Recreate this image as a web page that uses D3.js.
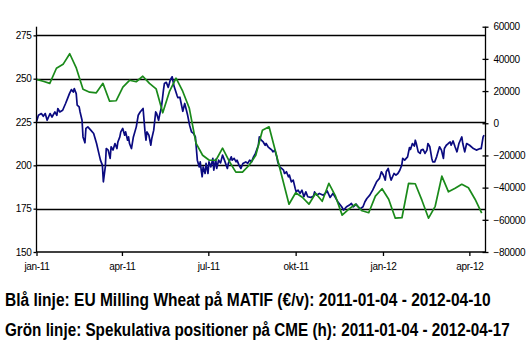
<!DOCTYPE html>
<html>
<head>
<meta charset="utf-8">
<script src="https://cdn.jsdelivr.net/npm/d3@7"></script>
<style>
  body { margin: 0; background: #fff; }
  svg { display: block; }
  .tick text { font-family: "Liberation Sans", Arial, sans-serif; font-size: 10px; fill: #000; letter-spacing: -0.3px; }
</style>
</head>
<body>
<svg id="chart"></svg>
<script>
// EU Milling Wheat (MATIF), EUR/t - days after 2011-01-04
const blueDays = [0,2,5,7,9,11,14,16,19,21,22,24,27,30,32,34,36,38,39,41,42,44,45,47,48,50,51,53,56,59,
  62,64,66,68,69,71,72,74,76,77,79,81,83,84,86,87,89,91,92,94,95,96,98,100,103,105,107,110,112,113,
  114,116,118,119,121,123,124,126,127,129,131,132,134,136,138,140,142,145,146,148,151,153,155,156,158,160,162,164,165,166,
  168,169,170,171,172,174,175,177,178,180,182,183,185,186,188,190,192,194,197,198,201,202,204,206,207,209,211,213,216,218,
  220,222,224,226,229,230,232,234,236,237,239,241,243,244,246,248,249,251,253,255,256,258,260,261,263,265,267,268,270,272,
  274,276,278,280,283,286,287,289,292,296,298,300,303,306,309,311,315,317,320,323,325,327,330,332,334,337,339,341,344,347,
  351,354,356,358,360,361,363,365,366,369,371,373,375,377,378,380,383,385,386,388,390,391,392,394,396,397,399,401,403,404,
  406,408,409,411,413,415,416,418,420,421,423,425,427,428,430,432,434,436,439,440,442,444,447,451,454,458,459,461,462];
const blueValues = [225.1,228.9,229.9,228.3,229.9,226.0,229.9,227.9,230.8,228.9,232.8,230.8,231.8,235.7,238.5,241.4,243.7,242.3,244.3,241.4,
  234.7,233.7,230.8,226.0,216.4,213.0,221.3,222.2,220.3,218.4,212.6,207.8,203.0,200.1,190.5,199.1,209.7,208.8,204.0,210.7,
  208.8,212.6,209.7,213.5,216.4,219.3,221.3,217.4,219.3,214.5,216.4,212.6,209.7,216.4,222.2,228.9,230.8,232.8,219.3,214.5,
  219.3,217.4,211.6,215.5,220.3,230.8,229.9,226.0,228.9,233.7,243.3,247.2,247.9,245.0,249.1,251.1,245.6,240.4,239.0,239.3,
  231.2,235.7,231.2,228.9,223.2,219.3,218.4,216.4,209.7,203.0,199.1,202.0,197.2,193.4,199.1,195.3,201.1,195.3,202.0,199.1,
  204.0,197.2,203.4,198.2,203.0,201.4,205.9,203.0,198.2,201.1,204.9,203.0,204.0,202.0,203.0,200.1,198.2,201.1,202.0,201.1,
  203.0,202.0,204.9,206.9,211.6,216.4,214.5,213.5,211.6,212.6,210.7,209.7,208.8,207.8,208.8,204.9,202.0,199.1,198.2,197.2,
  195.3,196.3,193.4,194.4,190.5,191.5,186.7,184.7,185.7,183.8,185.7,181.9,184.7,181.9,181.5,182.3,184.7,182.8,183.8,182.8,
  183.8,185.3,181.5,183.8,180.9,179.0,176.1,174.2,176.1,177.1,178.1,176.1,177.6,176.1,174.9,176.1,179.0,180.9,182.8,185.7,
  190.5,192.5,196.3,194.4,191.5,196.3,198.2,193.4,191.5,195.3,194.4,195.3,197.2,200.1,204.0,203.0,204.9,210.3,209.2,212.6,
  211.1,214.5,212.6,207.8,206.9,208.8,209.2,206.9,208.8,212.6,210.7,204.0,202.0,202.0,204.9,208.8,210.7,208.8,204.0,209.7,
  211.6,212.6,213.5,211.6,214.1,210.7,207.8,212.6,216.4,212.6,207.8,212.6,211.6,209.7,208.8,209.7,209.7,216.4,217.4];

// Speculative positions on CME (contracts), weekly from 2011-01-04
const greenValues = [27300,26100,24800,34200,36600,43200,34200,21100,19300,18900,
  24800,13700,14000,22400,26700,25800,29200,24800,21400,6500,
  19600,28000,19900,9300,-12400,-19900,-23000,-23000,-15500,-23600,
  -30400,-30400,-26100,-19900,-4400,-2200,-18000,-34200,-50300,-43200,
  -46000,-50300,-43500,-48500,-37300,-45300,-57100,-53400,-50300,-54400,
  -55600,-45300,-40700,-47200,-59000,-58700,-37300,-37600,-47800,-59000,
  -51600,-32900,-42600,-40400,-37900,-40100,-47200,-55900];

const leftTicks = [150, 175, 200, 225, 250, 275];
const rightTicks = [-80000, -60000, -40000, -20000, 0, 20000, 40000, 60000];
const xTickLabels = ["jan-11", "apr-11", "jul-11", "okt-11", "jan-12", "apr-12"];

const captions = [
  "Blå linje: EU Milling Wheat på MATIF (€/v): 2011-01-04 - 2012-04-10",
  "Grön linje: Spekulativa positioner på CME (h): 2011-01-04 - 2012-04-17"
];

const width = 529, height = 353;
const margin = { left: 36.5, right: 43.5, top: 26.7, bottom: 101 };
const x0 = margin.left, x1 = width - margin.right;
const yTop = margin.top, yBot = height - margin.bottom;

const parse = d3.timeParse("%Y-%m-%d");
const start = parse("2011-01-04");

const svg = d3.select("#chart").attr("width", width).attr("height", height);

// axis used for ticks and the weekly series
const x = d3.scaleTime()
  .domain([start, parse("2012-04-21")])
  .range([x0, x1]);
// daily series spans its own date range over the same width
const xBlue = d3.scaleTime()
  .domain([start, parse("2012-04-10")])
  .range([x0, x1 - 1.4]);

const yL = d3.scaleLinear().domain([150, 280]).range([yBot, yTop]);
const yR = d3.scaleLinear().domain([-80000, 60000]).range([yBot, yTop]);

const xTickDates = xTickLabels.map((d, i) => d3.timeMonth.offset(start, 3 * i));

// gridlines
svg.append("g")
  .selectAll("line")
  .data(leftTicks.filter(d => d > 150))
  .enter().append("line")
  .attr("x1", x0).attr("x2", x1)
  .attr("y1", d => Math.round(yL(d)) + 0.5)
  .attr("y2", d => Math.round(yL(d)) + 0.5)
  .attr("stroke", "#000").attr("stroke-width", 1.3);

// lines
const blueData = blueDays.map((d, i) => ({ date: d3.timeDay.offset(start, d), v: blueValues[i] }));
const greenData = greenValues.map((v, i) => ({ date: d3.timeDay.offset(start, 7 * i), v: v }));

svg.append("path")
  .datum(blueData)
  .attr("fill", "none")
  .attr("stroke", "#0a0a80")
  .attr("stroke-width", 1.7)
  .attr("stroke-linejoin", "round")
  .attr("d", d3.line().x(d => xBlue(d.date)).y(d => yL(d.v)));

svg.append("path")
  .datum(greenData)
  .attr("fill", "none")
  .attr("stroke", "#1a8a1a")
  .attr("stroke-width", 1.7)
  .attr("stroke-linejoin", "round")
  .attr("d", d3.line().x(d => x(d.date)).y(d => yR(d.v)));

// left axis
const gL = svg.append("g")
  .attr("transform", `translate(${x0},0)`)
  .call(d3.axisLeft(yL).tickValues(leftTicks).tickSize(3).tickPadding(2).tickFormat(d3.format("d")));
gL.select(".domain").attr("d", `M-0,${yTop}V${yBot}`);

// right axis
const gR = svg.append("g")
  .attr("transform", `translate(${x1},0)`)
  .call(d3.axisRight(yR).tickValues(rightTicks).tickSize(3).tickPadding(5).tickFormat(d3.format("d")));
gR.select(".domain").attr("d", `M0,${yTop}V${yBot}`);
gR.selectAll(".tick line").attr("x1", -3);

// bottom axis
const gB = svg.append("g")
  .attr("transform", `translate(0,${yBot})`)
  .call(d3.axisBottom(x).tickValues(xTickDates).tickSize(4).tickPadding(7)
    .tickFormat((d, i) => xTickLabels[i]));
gB.select(".domain").attr("d", `M${x0},0H${x1}`);

svg.selectAll(".domain, .tick line").attr("stroke", "#000").attr("stroke-width", 1.3);

// captions: bold text squeezed horizontally to the width in the original
const capWidths = [486, 505];
svg.append("g")
  .selectAll("text")
  .data(captions)
  .enter().append("text")
  .style("font-family", "'Liberation Sans', Arial, sans-serif")
  .style("font-weight", "bold")
  .style("font-size", "19px")
  .attr("fill", "#000")
  .text(d => d)
  .each(function (d, i) {
    const w = this.getComputedTextLength();
    d3.select(this).attr("transform", `translate(5,${306 + i * 29.7}) scale(${capWidths[i] / w},1)`);
  });
</script>
</body>
</html>
